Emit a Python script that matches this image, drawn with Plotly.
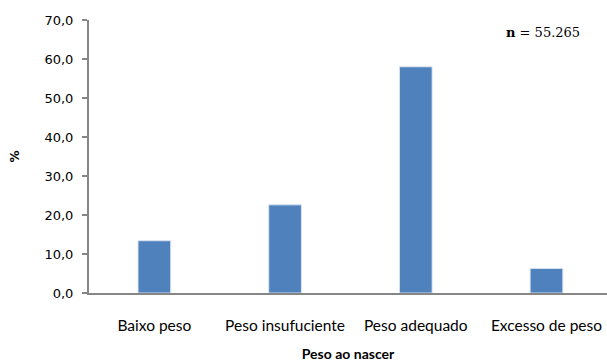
import plotly.graph_objects as go

# Birth weight distribution (%)
categories = ["Baixo peso", "Peso insufuciente", "Peso adequado", "Excesso de peso"]
percentages = [13.4, 22.6, 58.0, 6.3]
y_ticks = [0, 10, 20, 30, 40, 50, 60, 70]
sample_note = "<b>n</b> = 55.265"

axis_grey = "#868686"

fig = go.Figure(
    go.Bar(
        x=categories,
        y=percentages,
        marker=dict(color="#4F81BD", line=dict(color="rgba(220,230,242,0.9)", width=1)),
        width=0.25,
        hoverinfo="x+y",
    )
)

fig.update_layout(
    width=607,
    height=362,
    margin=dict(l=89, r=0, t=20, b=69),
    plot_bgcolor="white",
    paper_bgcolor="white",
    separators=",.",
    showlegend=False,
    font=dict(family="DejaVu Sans", color="#000000"),
    annotations=[
        dict(
            text=sample_note,
            x=1.0, xref="paper", xanchor="right", xshift=-25,
            y=1.0, yref="paper", yanchor="top", yshift=-3,
            showarrow=False,
            font=dict(family="DejaVu Serif", size=13, color="#000000"),
        )
    ],
)

fig.update_xaxes(
    type="category",
    range=[-0.5, 3.463],
    showline=True,
    linecolor=axis_grey,
    linewidth=2,
    ticks="",
    tickfont=dict(family="Lato", size=15.5),
    ticklabelstandoff=17,
    title=dict(text="<b>Peso ao nascer</b>", font=dict(family="Lato", size=14), standoff=18),
    showgrid=False,
    zeroline=False,
)

fig.update_yaxes(
    range=[0, 70],
    tickvals=y_ticks,
    tickformat=".1f",
    showline=True,
    linecolor=axis_grey,
    linewidth=2,
    ticks="outside",
    ticklen=5,
    tickcolor=axis_grey,
    tickwidth=2,
    tickfont=dict(family="DejaVu Sans", size=13),
    ticklabelstandoff=6,
    title=dict(text="<b>%</b>", font=dict(family="DejaVu Sans", size=12), standoff=22),
    showgrid=False,
    zeroline=False,
)

fig.write_html("out.html")
